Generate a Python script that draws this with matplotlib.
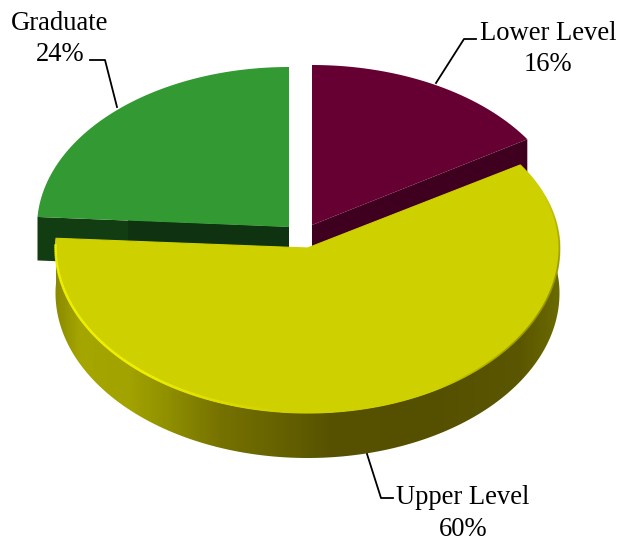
import numpy as np
import matplotlib
matplotlib.use("Agg")
import matplotlib.pyplot as plt
from matplotlib.collections import LineCollection
from matplotlib.colors import LinearSegmentedColormap, to_rgba
from matplotlib.patches import Polygon

plt.rcParams['font.family'] = ['Liberation Serif', 'DejaVu Serif']

# shares go clockwise from 12 o'clock
categories = ["Lower Level", "Upper Level", "Graduate"]
shares = [16, 60, 24]

top_colors = ["#660033", "#cfd000", "#339933"]
wall_colors = ["#3f0020", "#5a5600", "#123c12"]

DEPTH = 45

fig = plt.figure(figsize=(6.19, 5.37), dpi=100, facecolor="white")
ax = fig.add_axes([0, 0, 1, 1])
ax.set_xlim(0, 619)
ax.set_ylim(537, 0)
ax.axis("off")

# running angles for the slices
edges = np.radians(np.concatenate([[0], np.cumsum(shares)]) * 3.6)


def rim(t, cx, cy, rx, ry_back, ry_front):
    # ellipse is flatter at the back to fake the perspective
    ry = np.where(np.cos(t) > 0, ry_back, ry_front)
    return np.column_stack([cx + rx * np.sin(t), cy - ry * np.cos(t)])


def slice_points(start, end, cx, cy, rx, ry_back, ry_front):
    t = np.linspace(start, end, 200)
    arc = rim(t, cx, cy, rx, ry_back, ry_front)
    return np.vstack([[cx, cy], arc])


# back slices: cut walls first, then the top faces
lower = dict(cx=312, cy=225, rx=255, ry_back=160, ry_front=160)
grad = dict(cx=289, cy=227, rx=252, ry_back=160, ry_front=160)
upper = dict(cx=307.5, cy=248, rx=252, ry_back=155, ry_front=165)

end = rim(np.array([edges[1]]), **lower)[0]
ax.add_patch(Polygon([(lower["cx"], lower["cy"]), end, end + [0, DEPTH],
                      (lower["cx"], lower["cy"] + DEPTH)],
                     fc=wall_colors[0], ec="none", zorder=1))
ax.add_patch(Polygon(slice_points(edges[0], edges[1], **lower),
                     fc=top_colors[0], ec="none", zorder=2))

end = rim(np.array([edges[2]]), **grad)[0]
ax.add_patch(Polygon([(grad["cx"], grad["cy"]), end, end + [0, DEPTH - 1.5],
                      (grad["cx"], grad["cy"] + DEPTH - 1.5)],
                     fc=wall_colors[2], ec="none", zorder=1))
# the green wall changes shade part way along
dark = Polygon([(grad["cx"], grad["cy"]), (128, grad["cy"] - 7),
                (128, grad["cy"] - 7 + DEPTH - 1.5), (grad["cx"], grad["cy"] + DEPTH - 1.5)],
               fc="#0f3310", ec="none", zorder=1.1)
ax.add_patch(dark)
ax.add_patch(Polygon(slice_points(edges[2], edges[3], **grad),
                     fc=top_colors[2], ec="none", zorder=2))

# big slice, outer wall with a horizontal shading ramp
t_wall = np.linspace(edges[1], edges[2], 400)
wall_top = rim(t_wall, **upper)
wall_pts = np.vstack([wall_top, (wall_top + [0, DEPTH])[::-1]])
wall_patch = Polygon(wall_pts, fc="none", ec="none", transform=ax.transData)
ax.add_patch(wall_patch)

ramp_x = [55, 80, 130, 170, 220, 300, 330, 430, 520, 560]
ramp_colors = ["#8a8a00", "#a6a600", "#a2a200", "#8e8e00", "#767200",
               "#605c00", "#565200", "#555000", "#5a5600", "#6a6a00"]
ramp_pos = [(x - ramp_x[0]) / (ramp_x[-1] - ramp_x[0]) for x in ramp_x]
ramp = LinearSegmentedColormap.from_list("wall", list(zip(ramp_pos, ramp_colors)))
img = ax.imshow(np.linspace(0, 1, 512)[None, :], cmap=ramp, aspect="auto",
                extent=[ramp_x[0], ramp_x[-1], 470, 150], zorder=3)
img.set_clip_path(wall_patch)
ax.set_xlim(0, 619)
ax.set_ylim(537, 0)

ax.add_patch(Polygon(slice_points(edges[1], edges[2], **upper),
                     fc=top_colors[1], ec=top_colors[1], lw=0.8,
                     joinstyle="round", zorder=4))

# bright bevel along the front left rim
t_hi = np.radians(np.linspace(185, 271, 120))
pts = rim(t_hi, **upper) + [0, -1]
segs = np.stack([pts[:-1], pts[1:]], axis=1)
fade = 0.85 * np.clip(np.linspace(0, 2.5, len(segs)), 0, 1)
hi_colors = [to_rgba("#f6f600", a) for a in fade]
ax.add_collection(LineCollection(segs, colors=hi_colors, linewidths=1.8, zorder=5))

# soft dark edge on the right
t_lo = np.radians(np.linspace(70, 150, 120))
pts = rim(t_lo, **upper)
segs = np.stack([pts[:-1], pts[1:]], axis=1)
fade = 0.6 * np.sin(np.linspace(0, np.pi, len(segs)))
lo_colors = [to_rgba("#6a6a00", a) for a in fade]
ax.add_collection(LineCollection(segs, colors=lo_colors, linewidths=1.4, zorder=5))

# labels and leader lines, y values are text baselines
label_pos = [(548, 40), (463, 504.5), (60, 30)]
for name, share, (x, y) in zip(categories, shares, label_pos):
    ax.text(x, y, name, ha="center", va="baseline", fontsize=19.2, color="black", zorder=6)
    ax.text(x, y + 31, f"{share}%", ha="center", va="baseline", fontsize=19.2,
            color="black", zorder=6)

leader_x = [[436, 464, 476], [367, 381, 393], [117, 105, 90]]
leader_y = [[83, 39, 39], [454, 498, 498], [107, 60, 60]]
for lx, ly in zip(leader_x, leader_y):
    ax.plot(lx, ly, color="black", lw=1.3, solid_joinstyle="round", zorder=6)

fig.savefig("out.png", dpi=100, facecolor="white")
